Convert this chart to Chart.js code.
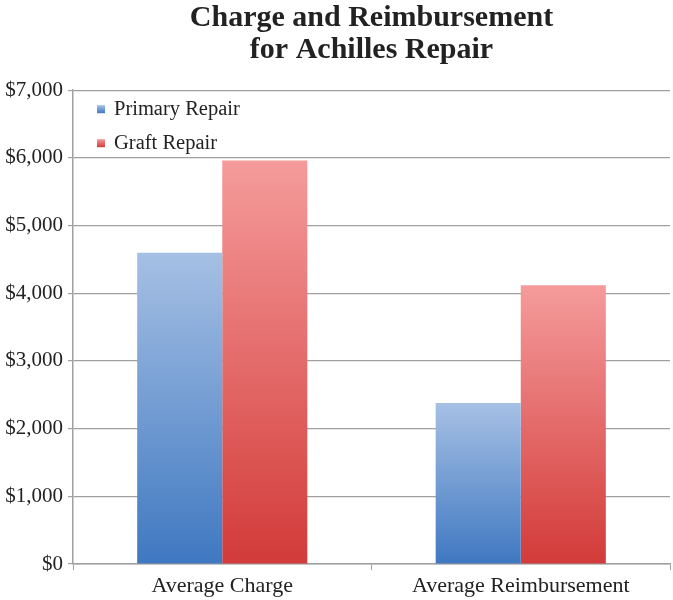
<!DOCTYPE html>
<html>
<head>
<meta charset="utf-8">
<script src="https://cdn.jsdelivr.net/npm/chart.js@4/dist/chart.umd.min.js"></script>
<style>
  html, body { margin: 0; background: #fff; }
  #wrap { width: 673px; height: 600px; }
</style>
</head>
<body>
<div id="wrap"><canvas id="chart"></canvas></div>
<script>
const categories = ['Average Charge', 'Average Reimbursement']
const primaryRepair = [4600, 2380]
const graftRepair = [5960, 4120]
const yTickValues = [0, 1000, 2000, 3000, 4000, 5000, 6000, 7000]

const FONT = "'Liberation Serif', serif"

// vertical gradient for each bar, light on top and dark at the base
function barGradient(light, dark) {
  return (ctx) => {
    const chart = ctx.chart
    if (!chart.chartArea || ctx.raw == null) return dark
    const y = chart.scales.y
    const top = y.getPixelForValue(ctx.raw)
    const base = y.getPixelForValue(0)
    const g = chart.ctx.createLinearGradient(0, top, 0, base)
    g.addColorStop(0, light)
    g.addColorStop(1, dark)
    return g
  }
}

const colors = [
  { light: '#a6c0e4', dark: '#3f78c1' },
  { light: '#f59b9b', dark: '#d23b39' }
]

// legend drawn inside the plot, top-left
const insideLegend = {
  id: 'insideLegend',
  afterDraw(chart) {
    const ctx = chart.ctx
    const x = chart.chartArea.left + 24
    let y = chart.chartArea.top + 19
    ctx.save()
    ctx.font = '20.5px ' + FONT
    ctx.textBaseline = 'middle'
    chart.data.datasets.forEach((ds, i) => {
      const g = ctx.createLinearGradient(0, y - 4, 0, y + 4)
      g.addColorStop(0, colors[i].light)
      g.addColorStop(1, colors[i].dark)
      ctx.fillStyle = g
      ctx.fillRect(x, y - 4, 8, 8)
      ctx.fillStyle = '#222'
      ctx.fillText(ds.label, x + 17, y)
      y += 34
    })
    ctx.restore()
  }
}

new Chart(document.getElementById('chart'), {
  type: 'bar',
  data: {
    labels: categories,
    datasets: [
      {
        label: 'Primary Repair',
        data: primaryRepair,
        backgroundColor: barGradient(colors[0].light, colors[0].dark)
      },
      {
        label: 'Graft Repair',
        data: graftRepair,
        backgroundColor: barGradient(colors[1].light, colors[1].dark)
      }
    ]
  },
  options: {
    responsive: true,
    maintainAspectRatio: false,
    animation: false,
    layout: { padding: { left: 0, right: 3, top: 0, bottom: 0 } },
    datasets: {
      bar: { categoryPercentage: 0.57, barPercentage: 1.0 }
    },
    plugins: {
      legend: { display: false },
      tooltip: { enabled: false },
      title: {
        display: true,
        fullSize: false,
        text: ['Charge and Reimbursement', 'for Achilles Repair'],
        color: '#222',
        font: { family: FONT, size: 30, weight: 'bold', lineHeight: 1.07 },
        padding: { top: 2, bottom: 24 }
      }
    },
    scales: {
      x: {
        grid: {
          drawOnChartArea: false,
          drawTicks: true,
          tickLength: 6,
          color: '#a0a0a0'
        },
        border: { color: '#a0a0a0', width: 1.5 },
        ticks: {
          color: '#222',
          font: { family: FONT, size: 22 },
          padding: 3
        },
        afterFit(scale) { scale.height = 36 }
      },
      y: {
        min: 0,
        max: 7000,
        afterBuildTicks(scale) {
          scale.ticks = yTickValues.map(v => ({ value: v }))
        },
        grid: {
          color: '#a0a0a0',
          lineWidth: 1.2,
          tickLength: 5
        },
        border: { color: '#a0a0a0', width: 1.5 },
        ticks: {
          color: '#222',
          font: { family: FONT, size: 21 },
          padding: 5,
          callback: v => '$' + v.toLocaleString('en-US')
        },
        afterFit(scale) { scale.width = 73 }
      }
    }
  },
  plugins: [insideLegend]
})
</script>
</body>
</html>
